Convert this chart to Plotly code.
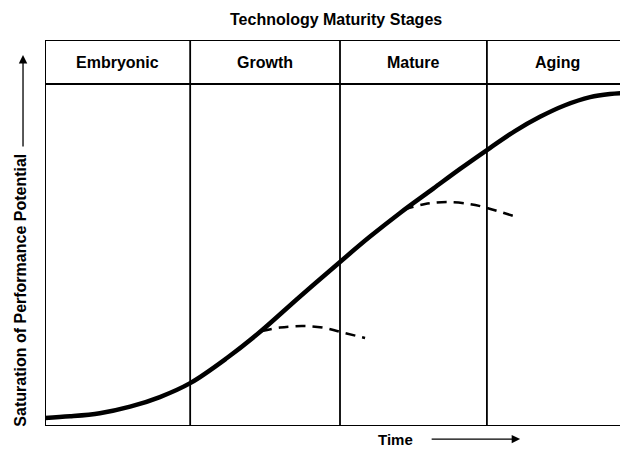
import plotly.graph_objects as go

# Data (time in % of span, performance in % of plot height)
stages = ["Embryonic", "Growth", "Mature", "Aging"]
stage_bounds = [0, 24.9, 50.6, 75.8, 100]

main_x = [0, 4.3, 9.4, 14.6, 19.7, 24.9, 31.2, 36.9, 43.7, 50.6, 55.7, 60.9, 66.6, 71.2, 76.3, 80.6, 84.9, 89.2, 93.5, 96.9, 100]
main_y = [2.1, 2.5, 3.3, 5.0, 7.5, 11.1, 17.6, 24.4, 33.5, 42.5, 49.0, 55.2, 61.5, 66.6, 72.0, 76.4, 80.1, 83.1, 85.2, 86.0, 86.3]

branch1_x = [37.2, 40.3, 44.3, 48.0, 50.6, 54.9]
branch1_y = [24.6, 25.5, 25.9, 25.4, 24.4, 22.8]

branch2_x = [61.5, 65.2, 68.9, 72.9, 75.8, 81.0]
branch2_y = [56.0, 57.5, 58.0, 57.5, 56.5, 54.1]

header_bottom = 88.6

FONT = "Liberation Sans, Arial, sans-serif"

fig = go.Figure()
fig.add_trace(go.Scatter(x=main_x, y=main_y, mode="lines",
                         line=dict(color="black", width=4.5, shape="spline", smoothing=1.0),
                         hoverinfo="skip", showlegend=False))
for bx, by in [(branch1_x, branch1_y), (branch2_x, branch2_y)]:
    fig.add_trace(go.Scatter(x=bx, y=by, mode="lines",
                             line=dict(color="black", width=2.5, shape="spline", dash="10px,7px"),
                             hoverinfo="skip", showlegend=False))

shapes = []
frame = dict(color="black", width=2)
shapes.append(dict(type="line", xref="x", yref="y", x0=0, x1=0, y0=0, y1=100, line=frame))
shapes.append(dict(type="line", xref="x", yref="y", x0=0, x1=100, y0=100, y1=100, line=frame))
shapes.append(dict(type="line", xref="x", yref="y", x0=0, x1=100, y0=header_bottom, y1=header_bottom, line=frame))
shapes.append(dict(type="line", xref="x", yref="y", x0=0, x1=100, y0=0, y1=0, line=frame))
for b in stage_bounds[1:-1]:
    shapes.append(dict(type="line", xref="x", yref="y", x0=b, x1=b, y0=0, y1=100,
                       line=dict(color="black", width=1.8)))

annotations = []
for i, s in enumerate(stages):
    annotations.append(dict(x=(stage_bounds[i] + stage_bounds[i + 1]) / 2, y=(header_bottom + 100) / 2,
                            xref="x", yref="y", text="<b>%s</b>" % s, showarrow=False,
                            font=dict(family=FONT, size=16, color="black")))
annotations.append(dict(x=0.499, y=1.052, xref="paper", yref="paper", text="<b>Technology Maturity Stages</b>",
                        showarrow=False, xanchor="center", yanchor="middle",
                        font=dict(family=FONT, size=16, color="black")))
annotations.append(dict(x=-0.042, y=0.352, xref="paper", yref="paper",
                        text="<b>Saturation of Performance Potential</b>",
                        textangle=-90, showarrow=False, xanchor="center", yanchor="middle",
                        font=dict(family=FONT, size=16, color="black")))
annotations.append(dict(x=-0.0377, y=0.961, xref="paper", yref="paper", text="", showarrow=True,
                        ax=0, ay=93, arrowhead=2, arrowsize=1.3, arrowwidth=1.3, arrowcolor="black"))
annotations.append(dict(x=0.602, y=-0.036, xref="paper", yref="paper", text="<b>Time</b>",
                        showarrow=False, xanchor="center", yanchor="middle",
                        font=dict(family=FONT, size=15, color="black")))
annotations.append(dict(x=0.815, y=-0.034, xref="paper", yref="paper", text="", showarrow=True,
                        ax=-90, ay=0, arrowhead=2, arrowsize=1.3, arrowwidth=1.3, arrowcolor="black"))

# page body has an 8px margin: figure is sized and offset so the plot lands where the reference has it
fig.update_layout(
    width=620, height=441,
    margin=dict(l=37, r=0, t=32, b=23),
    paper_bgcolor="white", plot_bgcolor="white",
    xaxis=dict(range=[0, 100], visible=False, fixedrange=True),
    yaxis=dict(range=[0, 100], visible=False, fixedrange=True),
    shapes=shapes, annotations=annotations,
    showlegend=False,
)
fig.write_html("out.html")
